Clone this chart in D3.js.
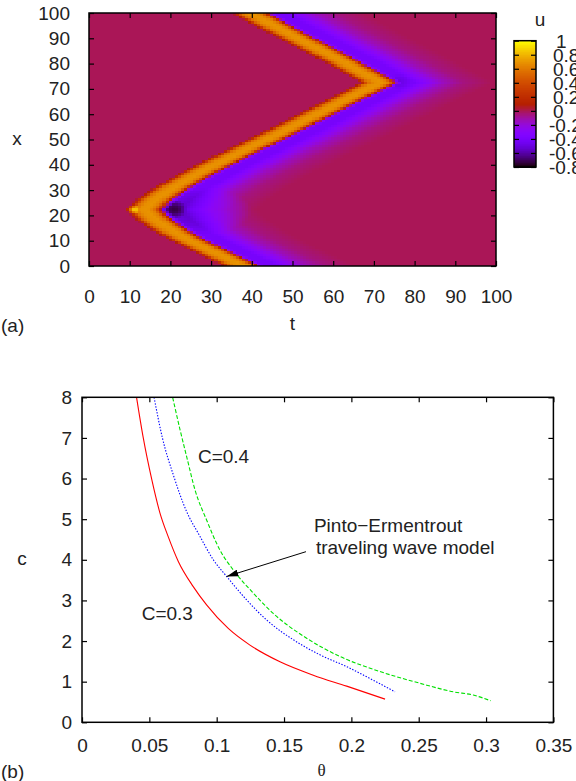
<!DOCTYPE html>
<html><head><meta charset="utf-8">
<script src="https://cdn.jsdelivr.net/npm/d3@7"></script>
<style>
body{margin:0;background:#fff;}
svg text{font-family:"Liberation Sans",Arial,Helvetica,sans-serif;fill:#222;}
</style></head><body>
<svg id="chart" width="576" height="781"></svg>
<script>
// ---------------- data : panel (a) ----------------
const tTicks = [0,10,20,30,40,50,60,70,80,90,100];
const xTicks = [0,10,20,30,40,50,60,70,80,90,100];
const cbTicks = [1,0.8,0.6,0.4,0.2,0,-0.2,-0.4,-0.6,-0.8];
const cbRange = [-0.8, 1];
// leading edge of the travelling front: arrival time t at each position x
const frontX = [0, 5.2, 10.6, 14.2, 18.3, 22.4, 26.5, 30.8, 38, 44.5, 50.6, 60.5, 72.7, 80.5, 91, 100];
const frontT = [33.5, 27, 20, 16, 12, 9.4, 12, 16, 24, 32, 40, 52, 67.3, 58.5, 46, 35.5];
// u as a function of time elapsed since the front arrived
const profileTau = [-0.6, 0, 0.8, 1.5, 3, 5, 6.5, 7.4, 8.1, 8.8, 9.8, 13, 16, 20, 25, 32];
const profileU   = [0, 0.12, 0.35, 0.56, 0.68, 0.7, 0.62, 0.42, 0.12, -0.22, -0.4, -0.4, -0.28, -0.14, -0.05, 0];
// local extrema near the initiation / collision points (t, x, spread in t, spread in x, extra u)
const bumpT  = [10.8, 20.5, 28, 76];
const bumpX  = [22.4, 22.6, 22, 73];
const bumpRt = [1.6, 3.5, 12, 3];
const bumpRx = [2, 4, 9, 3];
const bumpDu = [0.3, -0.23, -0.15, -0.08];

// ---------------- data : panel (b) ----------------
const thetaTicks = [0,0.05,0.1,0.15,0.2,0.25,0.3,0.35];
const cTicks = [0,1,2,3,4,5,6,7,8];
const redTheta = [0.0405,0.0455,0.0517,0.0579,0.064,0.0715,0.0826,0.0925,0.1086,0.1247,0.147,0.1717,0.1965,0.225];
const redC     = [8,7.0,5.99,5.15,4.57,3.96,3.34,2.89,2.31,1.90,1.49,1.16,0.89,0.57];
const blueTheta = [0.0535,0.0597,0.0679,0.0775,0.0872,0.0975,0.1074,0.1223,0.137,0.157,0.1767,0.1965,0.216,0.2324];
const blueC     = [8,7.0,6.08,5.2,4.6,4.0,3.59,3.01,2.52,2.03,1.66,1.37,1.04,0.75];
const greenTheta = [0.0673,0.0728,0.0777,0.0839,0.0925,0.1024,0.1123,0.1272,0.142,0.1668,0.1915,0.2212,0.251,0.2757,0.2905,0.3034];
const greenC     = [8,7.2,6.54,5.72,4.98,4.24,3.75,3.18,2.68,2.07,1.62,1.25,0.96,0.75,0.67,0.53];
const noteText  = ["C=0.4","C=0.3","Pinto\u2212Ermentrout","traveling wave model"];
const noteTheta = [0.0861,0.0443,0.1722,0.1737];
const noteC     = [6.39,2.52,4.69,4.15];
const arrowTheta = [0.1663,0.1074];
const arrowC     = [4.20,3.59];

// ---------------- drawing ----------------
const svg = d3.select("#chart");
const FS = 19;

function palette(u){ // gnuplot rgbformulae 7,5,15
  let g = (u - cbRange[0])/(cbRange[1]-cbRange[0]);
  g = Math.max(0, Math.min(1, g));
  const cl = v => Math.round(255*Math.max(0, Math.min(1, v)));
  return `rgb(${cl(Math.sqrt(g))},${cl(g*g*g)},${cl(Math.sin(2*Math.PI*g))})`;
}

// panel (a)
const xT = d3.scaleLinear([0,100],[89,496]);
const yT = d3.scaleLinear([0,100],[266,13]);
const lead = d3.scaleLinear(frontX, frontT);
const prof = d3.scaleLinear(profileTau, profileU).clamp(true);
function uAt(t, x){
  let u = prof(t - lead(x));
  for (let i=0;i<bumpT.length;i++){
    const d = ((t-bumpT[i])/bumpRt[i])**2 + ((x-bumpX[i])/bumpRx[i])**2;
    if (d < 1 && (bumpDu[i] > 0 || t - lead(x) > 8.5)) u += bumpDu[i]*(1-d);
  }
  return u;
}
const nT = 133, tStep = 100/nT;
const cells = [];
for (let i=0;i<nT;i++) for (let j=0;j<100;j++){
  const t0 = i*tStep, x0 = j;
  cells.push({t0, x0, u: uAt(t0+tStep/2, x0+0.5)});
}
const gA = svg.append("g");
gA.append("g").selectAll("rect").data(cells).join("rect")
  .attr("x", d=>xT(d.t0)).attr("width", d=>xT(d.t0+tStep)-xT(d.t0)+0.4)
  .attr("y", d=>yT(d.x0+1)).attr("height", d=>yT(d.x0)-yT(d.x0+1)+0.4)
  .attr("fill", d=>palette(d.u)).attr("shape-rendering","crispEdges");

function styleAxis(g){
  g.select(".domain").remove();
  g.selectAll(".tick line").attr("stroke","#000").attr("stroke-width",1.2);
  g.selectAll(".tick text").attr("font-size",FS).attr("fill","#222")
   .attr("font-family",'"Liberation Sans",Arial,sans-serif');
}
gA.append("g").attr("transform",`translate(0,${yT(0)})`)
  .call(d3.axisBottom(xT).tickValues(tTicks).tickSize(-5).tickPadding(24)).call(styleAxis);
gA.append("g").attr("transform",`translate(0,${yT(100)})`)
  .call(d3.axisTop(xT).tickValues(tTicks).tickSize(-5).tickFormat("")).call(styleAxis);
gA.append("g").attr("transform",`translate(${xT(0)},0)`)
  .call(d3.axisLeft(yT).tickValues(xTicks).tickSize(-5).tickPadding(19)).call(styleAxis);
gA.append("g").attr("transform",`translate(${xT(100)},0)`)
  .call(d3.axisRight(yT).tickValues(xTicks).tickSize(-5).tickFormat("")).call(styleAxis);
gA.append("rect").attr("x",xT(0)).attr("y",yT(100)).attr("width",xT(100)-xT(0)).attr("height",yT(0)-yT(100))
  .attr("fill","none").attr("stroke","#000").attr("stroke-width",1.5);
gA.append("text").attr("x",(xT(0)+xT(100))/2).attr("y",330).attr("text-anchor","middle").attr("font-size",FS).text("t");
gA.append("text").attr("x",17).attr("y",yT(50)+5).attr("text-anchor","middle").attr("font-size",FS).text("x");
gA.append("text").attr("x",1).attr("y",332).attr("font-size",FS).text("(a)");

// colour bar
const yC = d3.scaleLinear(cbRange,[167,40.7]);
const cbX0 = 514, cbX1 = 536;
const cbSteps = d3.range(0,180).map(k => cbRange[0] + k*(cbRange[1]-cbRange[0])/180);
const dU = (cbRange[1]-cbRange[0])/180;
gA.append("g").selectAll("rect").data(cbSteps).join("rect")
  .attr("x",cbX0).attr("width",cbX1-cbX0)
  .attr("y",d=>yC(d+dU)).attr("height",d=>yC(d)-yC(d+dU)+0.5)
  .attr("fill",d=>palette(d+dU/2)).attr("shape-rendering","crispEdges");
gA.append("g").attr("transform",`translate(${cbX0},0)`)
  .call(d3.axisLeft(yC).tickValues(cbTicks).tickSize(-5).tickFormat("")).call(styleAxis);
gA.append("g").attr("transform",`translate(${cbX1},0)`)
  .call(d3.axisRight(yC).tickValues(cbTicks).tickSize(-5).tickFormat("")).call(styleAxis);
gA.append("rect").attr("x",cbX0).attr("y",yC(cbRange[1])).attr("width",cbX1-cbX0).attr("height",yC(cbRange[0])-yC(cbRange[1]))
  .attr("fill","none").attr("stroke","#000").attr("stroke-width",1.5);
gA.append("g").selectAll("text").data(cbTicks).join("text")
  .attr("x",d=> d<0 ? 549 : (d===1 ? 556 : 553)).attr("y",d=>yC(d)).attr("dy","0.36em")
  .attr("font-size",FS).text(d=>String(d));
gA.append("text").attr("x",540).attr("y",26).attr("text-anchor","middle").attr("font-size",FS).text("u");

// panel (b)
const xB = d3.scaleLinear([0,0.35],[82,553.4]);
const yB = d3.scaleLinear([0,8],[722.3,397.3]);
const gB = svg.append("g");
const fmt = d => String(+d.toFixed(2));
gB.append("g").attr("transform",`translate(0,${yB(0)})`)
  .call(d3.axisBottom(xB).tickValues(thetaTicks).tickSize(-5).tickPadding(16).tickFormat(fmt)).call(styleAxis);
gB.append("g").attr("transform",`translate(0,${yB(8)})`)
  .call(d3.axisTop(xB).tickValues(thetaTicks).tickSize(-5).tickFormat("")).call(styleAxis);
gB.append("g").attr("transform",`translate(${xB(0)},0)`)
  .call(d3.axisLeft(yB).tickValues(cTicks).tickSize(-5).tickPadding(10)).call(styleAxis);
gB.append("g").attr("transform",`translate(${xB(0.35)},0)`)
  .call(d3.axisRight(yB).tickValues(cTicks).tickSize(-5).tickFormat("")).call(styleAxis);

svg.append("defs").append("clipPath").attr("id","clipB").append("rect")
  .attr("x",xB(0)).attr("y",yB(8)).attr("width",xB(0.35)-xB(0)).attr("height",yB(0)-yB(8));
const line = d3.line().x(d=>xB(d[0])).y(d=>yB(d[1])).curve(d3.curveMonotoneX);
const curves = [
  {th: redTheta, c: redC, color:"#ff0000", dash:null},
  {th: blueTheta, c: blueC, color:"#0000ff", dash:"1.4,1.6"},
  {th: greenTheta, c: greenC, color:"#00e000", dash:"4,2"}
];
gB.append("g").attr("clip-path","url(#clipB)").selectAll("path").data(curves).join("path")
  .attr("d", s => line(s.th.map((v,i)=>[v, s.c[i]])))
  .attr("fill","none").attr("stroke",s=>s.color).attr("stroke-width",1.1)
  .attr("stroke-dasharray",s=>s.dash);

gB.append("rect").attr("x",xB(0)).attr("y",yB(8)).attr("width",xB(0.35)-xB(0)).attr("height",yB(0)-yB(8))
  .attr("fill","none").attr("stroke","#000").attr("stroke-width",1.5);

gB.append("g").selectAll("text").data(noteText).join("text")
  .attr("x",(d,i)=>xB(noteTheta[i])).attr("y",(d,i)=>yB(noteC[i]))
  .attr("font-size",FS).text(d=>d);

svg.select("defs").append("marker").attr("id","ah").attr("viewBox","0 0 10 6")
  .attr("refX",10).attr("refY",3).attr("markerWidth",12).attr("markerHeight",7)
  .attr("markerUnits","userSpaceOnUse").attr("orient","auto")
  .append("path").attr("d","M0,0 L10,3 L0,6 Z").attr("fill","#000");
gB.append("line")
  .attr("x1",xB(arrowTheta[0])).attr("y1",yB(arrowC[0]))
  .attr("x2",xB(arrowTheta[1])).attr("y2",yB(arrowC[1]))
  .attr("stroke","#000").attr("stroke-width",1).attr("marker-end","url(#ah)");

gB.append("text").attr("x",(xB(0)+xB(0.35))/2+4).attr("y",776).attr("text-anchor","middle")
  .attr("font-size",17).style("font-family","'Liberation Serif','DejaVu Serif',serif").text("\u03B8");
gB.append("text").attr("x",22).attr("y",yB(4)+5).attr("text-anchor","middle").attr("font-size",FS).text("c");
gB.append("text").attr("x",1).attr("y",778).attr("font-size",FS).text("(b)");
</script>
</body></html>
